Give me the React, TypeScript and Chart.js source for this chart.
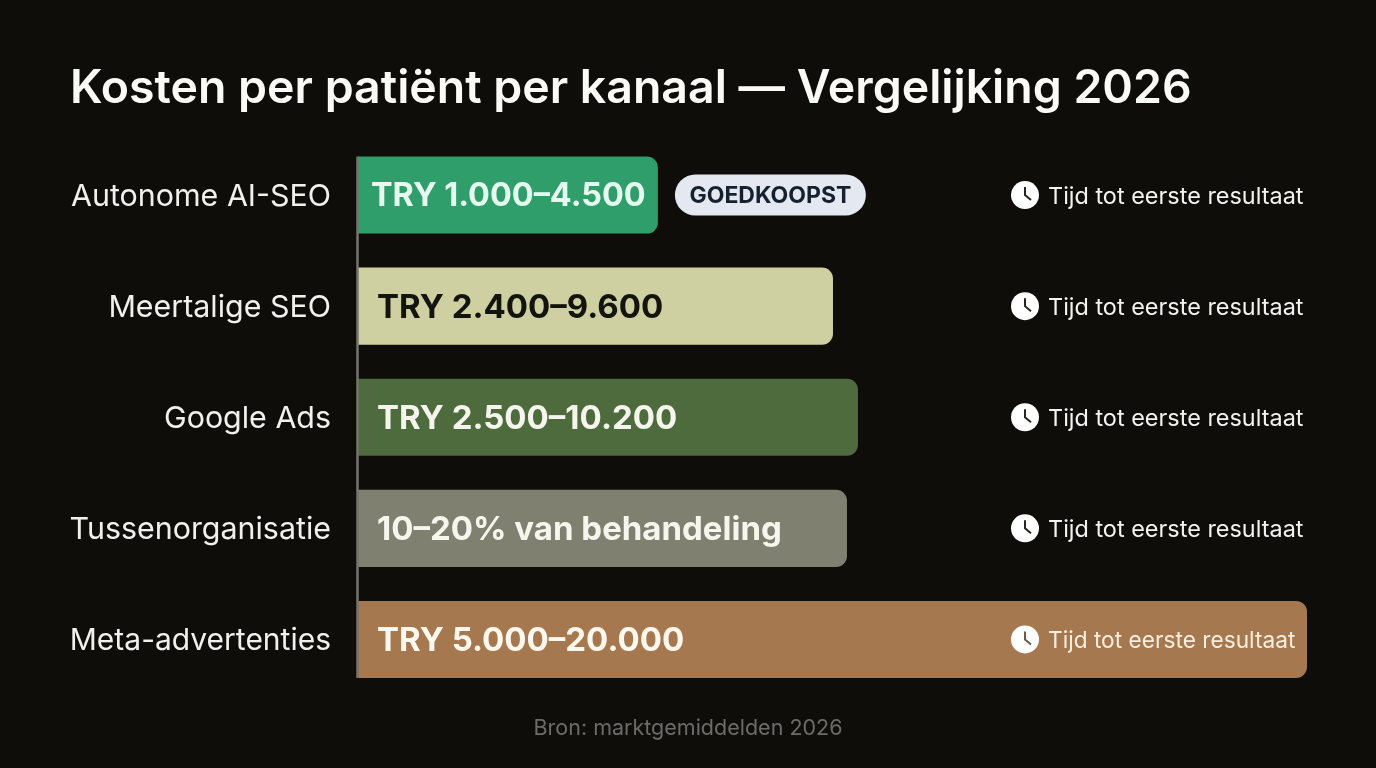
import React, { useEffect, useRef } from "react";
import { Chart, registerables } from "chart.js";

Chart.register(...registerables);

const titleText = "Kosten per patiënt per kanaal — Vergelijking 2026";
const sourceText = "Bron: marktgemiddelden 2026";
const badgeText = "GOEDKOOPST";
const timeText = "Tijd tot eerste resultaat";
const channels = ["Autonome AI-SEO", "Meertalige SEO", "Google Ads", "Tussenorganisatie", "Meta-advertenties"];
const rangeLabels = ["TRY 1.000–4.500", "TRY 2.400–9.600", "TRY 2.500–10.200", "10–20% van behandeling", "TRY 5.000–20.000"];
// Drawn bar lengths, on an axis where the longest bar is 20.000
const barLengths = [6320, 10010, 10537, 10305, 20000];
const barColors = ["#2f9e6b", "#cfd0a2", "#4d6b3d", "#808071", "#a57850"];
const labelColors = ["#e6fbf0", "#14140f", "#f5f5ee", "#f7f6ee", "#fff8ee"];
const timeColors = ["#f2f2ee", "#f2f2ee", "#f2f2ee", "#f2f2ee", "#fdeedd"];
const cheapestIndex = 0;

const BG = "#0e0d0a";
const FONT = "Inter, 'Noto Sans', sans-serif";

const overlay = {
  id: "overlay",
  afterDatasetsDraw(chart: any) {
    const { ctx, scales } = chart;
    const bars = chart.getDatasetMeta(0).data;
    const lastIndex = bars.length - 1;
    ctx.save();
    ctx.textBaseline = "alphabetic";

    ctx.fillStyle = "#fafaf7";
    ctx.font = `600 46.45px ${FONT}`;
    ctx.textAlign = "left";
    ctx.fillText(titleText, 70, 103);

    // baseline running from the first bar to the last
    ctx.beginPath();
    ctx.moveTo(scales.x.left - 0.5, bars[0].y - bars[0].height / 2);
    ctx.lineTo(scales.x.left - 0.5, bars[lastIndex].y + bars[lastIndex].height / 2);
    ctx.strokeStyle = "#74746c";
    ctx.lineWidth = 2.5;
    ctx.stroke();

    bars.forEach((bar: any, i: number) => {
      const y = scales.y.getPixelForValue(i);
      // range label
      ctx.textBaseline = "middle";
      ctx.textAlign = "left";
      ctx.font = `700 ${i === cheapestIndex ? 32.4 : 33}px ${FONT}`;
      ctx.fillStyle = labelColors[i];
      ctx.fillText(rangeLabels[i], scales.x.left + (i === cheapestIndex ? 13 : 19), y + 1.5);

      // badge
      if (i === cheapestIndex) {
        const bx = bar.x + 17;
        const bw = 191;
        const bh = 41;
        ctx.beginPath();
        ctx.roundRect(bx, y - bh / 2, bw, bh, bh / 2);
        ctx.fillStyle = "#e4e9f1";
        ctx.fill();
        ctx.fillStyle = "#16202e";
        ctx.font = `700 23px ${FONT}`;
        ctx.textAlign = "center";
        ctx.fillText(badgeText, bx + bw / 2, y + 1);
      }

      // clock icon
      const cx = 1025;
      ctx.beginPath();
      ctx.arc(cx, y, 14, 0, Math.PI * 2);
      ctx.fillStyle = "#ffffff";
      ctx.fill();
      ctx.beginPath();
      ctx.moveTo(cx, y - 8);
      ctx.lineTo(cx, y);
      ctx.lineTo(cx + 6, y + 5);
      ctx.strokeStyle = i === lastIndex ? "#6b5a48" : "#26251f";
      ctx.lineWidth = 2;
      ctx.stroke();

      // time text
      ctx.textAlign = "left";
      ctx.font = `400 ${i === lastIndex ? 22.7 : 23.45}px ${FONT}`;
      ctx.fillStyle = timeColors[i];
      ctx.fillText(timeText, 1048, y + 1.5);
    });

    ctx.textBaseline = "alphabetic";
    ctx.textAlign = "center";
    ctx.font = `400 21.5px ${FONT}`;
    ctx.fillStyle = "#6c6c66";
    ctx.fillText(sourceText, 688, 735);
    ctx.restore();
  },
};

export default function App() {
  const ref = useRef<HTMLCanvasElement | null>(null);
  useEffect(() => {
    document.body.style.margin = "0";
    document.body.style.background = BG;
    const chart = new Chart(ref.current as HTMLCanvasElement, {
      type: "bar",
      data: {
        labels: channels,
        datasets: [
          {
            data: barLengths,
            backgroundColor: barColors,
            borderRadius: { topLeft: 0, bottomLeft: 0, topRight: 11, bottomRight: 11 },
            borderSkipped: false,
            barPercentage: 0.694,
            categoryPercentage: 1,
          },
        ],
      },
      options: {
        indexAxis: "y",
        responsive: false,
        animation: false,
        layout: { padding: { left: 0, right: 69, top: 139.5, bottom: 73 } },
        plugins: { legend: { display: false }, tooltip: { enabled: false }, title: { display: false } },
        scales: {
          x: { min: 0, max: 20000, display: false },
          y: {
            afterFit(scale: any) {
              scale.width = 358;
            },
            grid: { display: false, drawTicks: false },
            border: { display: false },
            ticks: {
              color: "#f0f0ec",
              font: (c: any) => ({ family: FONT, size: c.index === channels.length - 1 ? 30 : 30.4, weight: "400" }),
              padding: 27,
              labelOffset: 1.5,
            },
          },
        },
      },
      plugins: [overlay],
    } as any);
    return () => chart.destroy();
  }, []);
  return <canvas ref={ref} width={1376} height={768} style={{ display: "block", background: BG }} />;
}
